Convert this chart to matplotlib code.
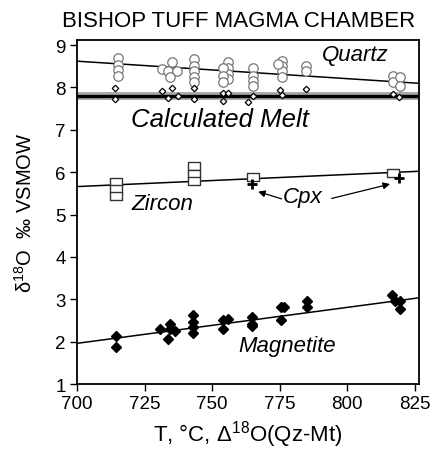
import numpy as np
import matplotlib
matplotlib.use("Agg")
import matplotlib.pyplot as plt
from matplotlib.path import Path

plt.rcParams['font.family'] = ['Liberation Sans', 'DejaVu Sans']
plt.rcParams['mathtext.fontset'] = 'custom'
plt.rcParams['mathtext.rm'] = 'Liberation Sans'

# quartz (open circles)
qz_T = [715, 715, 715, 715, 731.3, 735, 733.7, 737, 734.4,
        743.4, 743.4, 743.4, 743.4, 743.4, 756, 756, 756, 756, 754, 754, 754,
        765, 765, 765, 765, 775.7, 775.7, 775.7, 775.7, 774.5,
        784.7, 784.7, 817, 817, 819.5, 819.5]
qz_d18O = [8.69, 8.54, 8.41, 8.28, 8.43, 8.59, 8.39, 8.39, 8.24,
           8.67, 8.51, 8.38, 8.24, 8.12, 8.59, 8.47, 8.32, 8.20, 8.47, 8.27, 8.12,
           8.47, 8.28, 8.16, 8.04, 8.63, 8.51, 8.39, 8.24, 8.55,
           8.51, 8.39, 8.28, 8.12, 8.24, 8.04]

# calculated melt (small open diamonds)
melt_T = [714, 714, 731.3, 735, 733.7, 737.2, 743.4, 743.4, 754.1, 756, 754.1,
          765, 763.4, 775, 775.7, 784.7, 817, 819]
melt_d18O = [7.99, 7.73, 7.92, 7.98, 7.75, 7.80, 7.98, 7.73, 7.86, 7.86, 7.67,
             7.80, 7.65, 7.95, 7.83, 7.96, 7.84, 7.77]
melt_mean = 7.80
melt_band = [7.71, 7.90]

# zircon (open rectangles)
zrc_T = [714.4, 714.4, 714.4, 743.3, 743.3, 743.3, 765, 817]
zrc_d18O = [5.77, 5.60, 5.43, 6.14, 5.96, 5.79, 5.88, 5.98]

# clinopyroxene (+)
cpx_T = [764.6, 819.2]
cpx_d18O = [5.72, 5.86]

# magnetite (filled diamonds)
mt_T = [714.4, 714.4, 730.7, 734.4, 736.2, 733.8, 734.4,
        742.8, 742.8, 742.8, 742.8, 753.9, 753.9, 756,
        764.6, 764.6, 764.6, 775.3, 776.5, 775.3, 784.9, 784.9,
        816.4, 817.6, 819.5, 819.5]
mt_d18O = [2.14, 1.87, 2.30, 2.42, 2.26, 2.07, 2.30,
           2.62, 2.46, 2.34, 2.21, 2.50, 2.30, 2.54,
           2.58, 2.42, 2.38, 2.81, 2.81, 2.52, 2.95, 2.81,
           3.10, 2.95, 2.95, 2.77]

# fitted lines (end points)
fit_T = [700, 826]
qz_fit = [8.62, 8.10]
zrc_fit = [5.66, 6.02]
mt_fit = [1.96, 3.03]

fig = plt.figure(figsize=(4.33, 4.52), dpi=100)
ax = fig.add_axes([0.1778, 0.1482, 0.7898, 0.7611])

ax.axhspan(melt_band[0], melt_band[1], color='#aaaaaa', lw=0, zorder=1)
ax.axhline(melt_mean, color='black', lw=2.4, zorder=2)

ax.plot(fit_T, qz_fit, color='black', lw=1.1, zorder=2)
ax.plot(fit_T, zrc_fit, color='black', lw=1.1, zorder=2)
ax.plot(fit_T, mt_fit, color='black', lw=1.1, zorder=2)

ax.plot(qz_T, qz_d18O, 'o', ms=6.8, mfc='white', mec='#777777', mew=0.9, zorder=3)
ax.plot(melt_T, melt_d18O, 'D', ms=3.3, mfc='white', mec='black', mew=0.9, zorder=4)

rect = Path([(-1, -0.68), (1, -0.68), (1, 0.68), (-1, 0.68), (-1, -0.68)],
            [Path.MOVETO, Path.LINETO, Path.LINETO, Path.LINETO, Path.CLOSEPOLY])
ax.plot(zrc_T, zrc_d18O, ls='none', marker=rect, ms=8, mfc='white', mec='#333333', mew=1.0, zorder=3)
ax.plot(cpx_T, cpx_d18O, '+', ms=6.5, mec='black', mew=2.0, zorder=4)
ax.plot(mt_T, mt_d18O, 'D', ms=5.5, color='black', zorder=3)

ax.text(803, 8.78, 'Quartz', style='italic', fontsize=16, ha='center', va='center')
ax.text(753, 7.25, 'Calculated Melt', style='italic', fontsize=18.5, ha='center', va='center')
ax.text(731.6, 5.25, 'Zircon', style='italic', fontsize=16, ha='center', va='center')
ax.text(783.6, 5.42, 'Cpx', style='italic', fontsize=16, ha='center', va='center')
ax.text(777.8, 1.90, 'Magnetite', style='italic', fontsize=16, ha='center', va='center')

arrow = dict(arrowstyle='-|>', color='black', lw=0.9, mutation_scale=10, shrinkA=0, shrinkB=0)
ax.annotate('', xy=(767, 5.54), xytext=(775.7, 5.37), arrowprops=arrow)
ax.annotate('', xy=(815.8, 5.72), xytext=(794.2, 5.38), arrowprops=arrow)

ax.set_xlim(700, 826.5)
ax.set_ylim(1, 9.12)
ax.set_xticks([700, 725, 750, 775, 800, 825])
ax.set_yticks(range(1, 10))
ax.tick_params(direction='out', length=5, width=1, labelsize=13.5, pad=3)
for s in ax.spines.values():
    s.set_linewidth(1.3)

ax.set_xlabel('T, °C, Δ$^{\\mathrm{18}}$O(Qz-Mt)', fontsize=16, labelpad=4)
ax.set_ylabel('δ$^{\\mathrm{18}}$O  ‰ VSMOW', fontsize=14.5, labelpad=14)
fig.text(239 / 433, 1 - 21.5 / 452, 'BISHOP TUFF MAGMA CHAMBER', fontsize=16,
         ha='center', va='center')

fig.savefig('out.png', dpi=100)
